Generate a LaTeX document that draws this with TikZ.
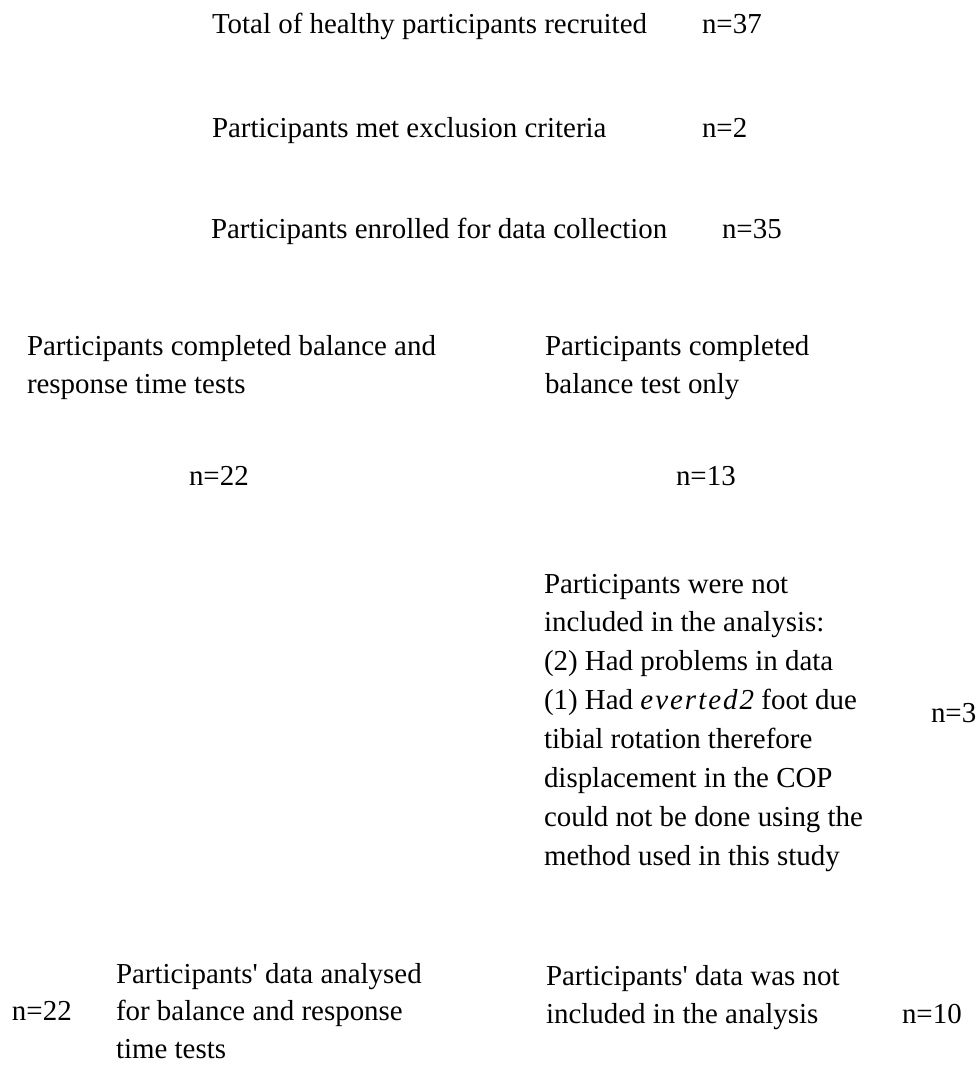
\documentclass[tikz,border=0pt]{standalone}
\usepackage{fontspec}
\setmainfont{Liberation Serif}
\newcommand{\stack}[1]{\begin{tabular}[t]{@{}l@{}}#1\end{tabular}}
\begin{document}
\begin{tikzpicture}[x=0.75pt, y=-0.75pt,
  lbl/.style={anchor=base west, inner sep=0pt, outer sep=0pt,
    font=\fontsize{21.7pt}{29pt}\selectfont}]
\useasboundingbox (0,0) rectangle (977,1065);
% screening stages
\node[lbl] (recruited) at (212,33) {Total of healthy participants recruited};
\node[lbl] (nrecruited) at (702,33) {n=37};
\node[lbl] (excluded) at (212,137) {Participants met exclusion criteria};
\node[lbl] (nexcluded) at (702,137) {n=2};
\node[lbl] (enrolled) at (211,238) {Participants enrolled for data collection};
\node[lbl] (nenrolled) at (722,238) {n=35};
% split by completed tests
\node[lbl] (both) at (27,355) {\stack{Participants completed balance and\\response time tests}};
\node[lbl] (balonly) at (545,355) {\stack{Participants completed\\balance test only}};
\node[lbl] (nboth) at (189,485) {n=22};
\node[lbl] (nbalonly) at (676,485) {n=13};
% removed from analysis
\node[lbl, font=\fontsize{21.7pt}{29.2pt}\selectfont] (removed) at (544,593) {\stack{Participants were not\\included in the analysis:\\(2) Had problems in data\\(1) Had {\itshape\addfontfeature{LetterSpace=7}everted2} foot due\\tibial rotation therefore\\displacement in the COP\\could not be done using the\\method used in this study}};
\node[lbl] (nremoved) at (931,722) {n=3};
% final analysis
\node[lbl, font=\fontsize{21.7pt}{28.2pt}\selectfont] (analysed) at (116,983) {\stack{Participants\textquotesingle{} data analysed\\for balance and response\\time tests}};
\node[lbl] (nanalysed) at (12,1020) {n=22};
\node[lbl] (notincl) at (546,985) {\stack{Participants\textquotesingle{} data was not\\included in the analysis}};
\node[lbl] (nnotincl) at (902,1023) {n=10};
\end{tikzpicture}
\end{document}
